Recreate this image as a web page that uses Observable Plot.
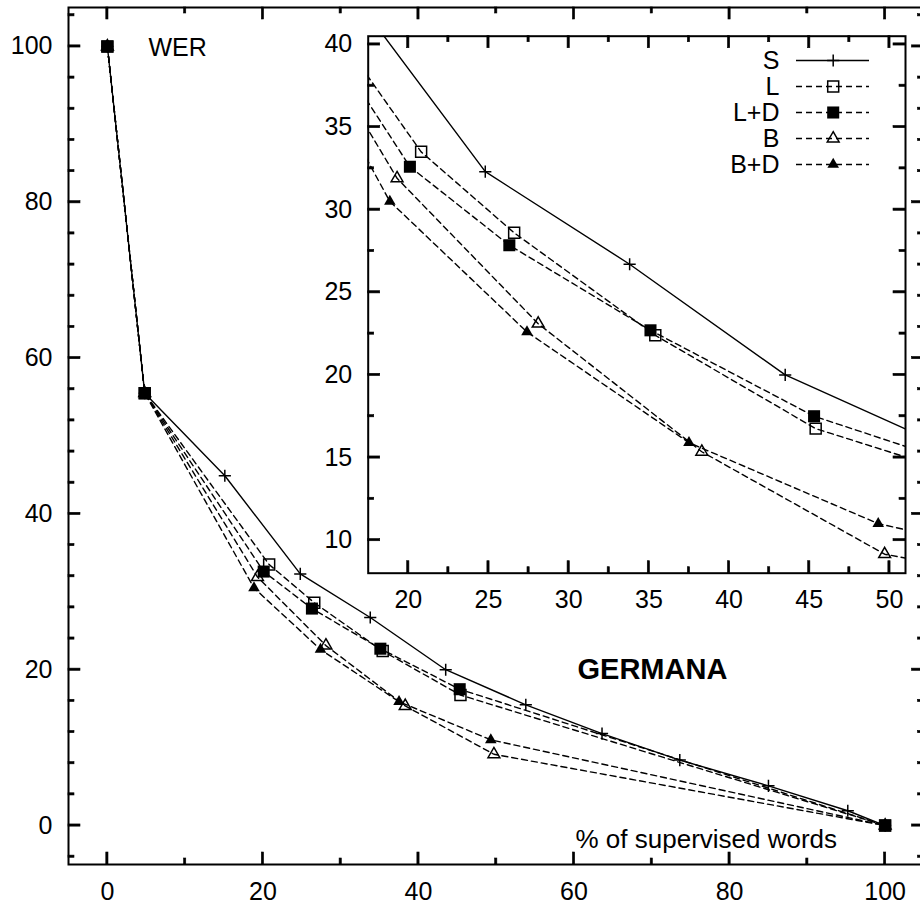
<!DOCTYPE html>
<html><head><meta charset="utf-8">
<script src="https://cdn.jsdelivr.net/npm/d3@7"></script>
<script src="https://cdn.jsdelivr.net/npm/@observablehq/plot@0.6"></script>
<style>
html,body{margin:0;padding:0;background:#fff;overflow:hidden;}
#wrap{position:relative;width:920px;height:907px;overflow:hidden;}
#wrap > svg{position:absolute;max-width:none;}
</style></head><body><div id="wrap"></div>
<script>
// ---- data ----
const seriesNames = ["S", "L", "L+D", "B", "B+D"];
const sX  = [0, 4.8, 15.1, 24.8, 33.8, 43.5, 53.8, 63.6, 73.6, 85.0, 95.2, 100];
const sY  = [100, 55.5, 44.9, 32.3, 26.7, 20.0, 15.5, 11.8, 8.4, 5.1, 1.9, 0];
const lX  = [0, 4.8, 20.8, 26.6, 35.4, 45.4, 100];
const lY  = [100, 55.5, 33.5, 28.6, 22.4, 16.75, 0];
const ldX = [0, 4.8, 20.1, 26.3, 35.1, 45.3, 100];
const ldY = [100, 55.5, 32.6, 27.85, 22.7, 17.5, 0];
const bX  = [0, 4.8, 19.3, 28.1, 38.3, 49.7, 100];
const bY  = [100, 55.5, 31.9, 23.1, 15.35, 9.15, 0];
const bdX = [0, 4.8, 18.85, 27.4, 37.5, 49.3, 100];
const bdY = [100, 55.5, 30.5, 22.6, 15.9, 11.0, 0];

const mainXTicks = [0, 20, 40, 60, 80, 100];
const mainXMinor = [10, 30, 50, 70, 90];
const mainYTicks = [0, 20, 40, 60, 80, 100];
const mainYMinor = [-4, 4, 8, 12, 16, 24, 28, 32, 36, 44, 48, 52, 56, 64, 68, 72, 76, 84, 88, 92, 96, 104];
const insetXTicks = [20, 25, 30, 35, 40, 45, 50];
const insetXMinor = [22.5, 27.5, 32.5, 37.5, 42.5, 47.5];
const insetYTicks = [10, 15, 20, 25, 30, 35, 40];
const insetYMinor = [12.5, 17.5, 22.5, 27.5, 32.5, 37.5];

const labelWER = "WER";
const labelTitle = "GERMANA";
const labelX = "% of supervised words";

// ---- build ----
const FONT = "'Liberation Sans', Arial, Helvetica, sans-serif";
const xs = [sX, lX, ldX, bX, bdX];
const ys = [sY, lY, ldY, bY, bdY];
const series = seriesNames.map((name, k) => ({
  name,
  rows: xs[k].map((x, i) => ({x, y: ys[k][i]}))
}));
const DASH = "6,4";
const LW = 1.4;
const styles = {
  "S":   {dash: null, symbol: "plus",     r: 4,   fill: "none",  stroke: "black"},
  "L":   {dash: DASH, symbol: "square",   r: 6.2, fill: "none",  stroke: "black"},
  "L+D": {dash: DASH, symbol: "square",   r: 6.8, fill: "black", stroke: "none"},
  "B":   {dash: DASH, symbol: "triangle", r: 4.4, fill: "none",  stroke: "black"},
  "B+D": {dash: DASH, symbol: "triangle", r: 4.3, fill: "black", stroke: "none"}
};

// inward ticks on all four sides (gnuplot style), drawn as thin filled rectangles
function frameTicks(xMaj, xMin, yMaj, yMin, sx, sy) {
  const [xa, xb] = sx.domain(), [ya, yb] = sy.domain();
  const [px0, px1] = sx.range(), [py0, py1] = sy.range();
  const up = len => sy.invert(py0 - len), down = len => sy.invert(py1 + len);
  const right = len => sx.invert(px0 + len), left = len => sx.invert(px1 - len);
  const hwx = Math.abs(sx.invert(px0 + 1.1) - xa);   // half tick thickness in x units
  const hwy = Math.abs(sy.invert(py0 - 1.1) - ya);   // half tick thickness in y units
  const o = {fill: "black", stroke: "black", strokeWidth: 0.6};
  const vx = (data, yA, yB) => Plot.rect(data, {...o, x1: d => d - hwx, x2: d => d + hwx, y1: yA, y2: yB});
  const hy = (data, xA, xB) => Plot.rect(data, {...o, y1: d => d - hwy, y2: d => d + hwy, x1: xA, x2: xB});
  return [
    vx(xMaj, ya, up(12)), vx(xMaj, yb, down(12)),
    vx(xMin, ya, up(6)),  vx(xMin, yb, down(6)),
    hy(yMaj, xa, right(12)), hy(yMaj, xb, left(12)),
    hy(yMin, xa, right(6)),  hy(yMin, xb, left(6))
  ];
}

function seriesMarks() {
  const marks = [];
  for (const s of series) {
    const st = styles[s.name];
    marks.push(Plot.line(s.rows, {x: "x", y: "y", stroke: "black", strokeWidth: LW,
      strokeDasharray: st.dash || undefined, clip: true}));
    marks.push(Plot.dot(s.rows, {x: "x", y: "y", symbol: st.symbol, r: st.r,
      fill: st.fill, stroke: st.stroke, strokeWidth: 1.5, clip: true}));
  }
  return marks;
}

// main plot
const mL = 68, mT = 7, mR = -3.5, mB = 43, MW = 920, MH = 907;
const mainXDomain = [-5, 105], mainYDomain = [-5, 105];
const mx = d3.scaleLinear(mainXDomain, [mL, MW - mR]);
const my = d3.scaleLinear(mainYDomain, [MH - mB, mT]);
const main = Plot.plot({
  width: MW, height: MH,
  marginLeft: mL, marginTop: mT, marginRight: mR, marginBottom: mB,
  x: {domain: mainXDomain, label: null},
  y: {domain: mainYDomain, label: null},
  style: {fontFamily: FONT, fontSize: "25px", background: "white", color: "black", left: "0px", top: "0px"},
  marks: [
    Plot.axisX(mainXTicks, {anchor: "bottom", tickSize: 0, tickPadding: 18, fontSize: 25, label: null}),
    Plot.axisY(mainYTicks, {anchor: "left", tickSize: 0, tickPadding: 16, fontSize: 25, label: null}),
    ...seriesMarks(),
    Plot.text([labelWER], {text: d => d, frameAnchor: "top-left", dx: 80, dy: 40, textAnchor: "start", lineAnchor: "middle", fontSize: 25}),
    Plot.text([labelTitle], {text: d => d, frameAnchor: "top-left", dx: 509, dy: 662, textAnchor: "start", lineAnchor: "middle", fontSize: 29, fontWeight: "bold"}),
    Plot.text([labelX], {text: d => d, frameAnchor: "bottom-left", dx: 507, dy: -25, textAnchor: "start", lineAnchor: "middle", fontSize: 26}),
    Plot.frame({stroke: "black", strokeWidth: 2}),
    ...frameTicks(mainXTicks, mainXMinor, mainYTicks, mainYMinor, mx, my)
  ]
});

// inset plot
const iW = 620, iH = 620, iL = 67.7, iT = 35.7, iR = 15, iB = 47.3;
const insetXDomain = [17.5, 51];
const insetYDomain = [8, 40.5];
const ix = d3.scaleLinear(insetXDomain, [iL, iW - iR]);
const iy = d3.scaleLinear(insetYDomain, [iH - iB, iT]);
// legend layout (pixel positions inside the inset svg)
const legendRows = seriesNames.map((name, i) => ({name, ty: iy.invert(60 + 26 * i)}));
const lgText = ix.invert(479), lgA = ix.invert(496), lgB = ix.invert(569), lgM = ix.invert(532.7);

const legendMarks = [];
legendRows.forEach(row => {
  const st = styles[row.name];
  legendMarks.push(Plot.text([row], {x: lgText, y: "ty", text: "name", textAnchor: "end", lineAnchor: "middle", fontSize: 25}));
  legendMarks.push(Plot.ruleY([row], {y: "ty", x1: lgA, x2: lgB, stroke: "black", strokeWidth: LW, strokeDasharray: st.dash || undefined}));
  legendMarks.push(Plot.dot([row], {x: lgM, y: "ty", symbol: st.symbol, r: st.r, fill: st.fill, stroke: st.stroke, strokeWidth: 1.5}));
});

const inset = Plot.plot({
  width: iW, height: iH,
  marginLeft: iL, marginTop: iT, marginRight: iR, marginBottom: iB,
  x: {domain: insetXDomain, label: null},
  y: {domain: insetYDomain, label: null},
  style: {fontFamily: FONT, fontSize: "25px", background: "transparent", color: "black", left: "300px", top: "0px"},
  marks: [
    Plot.frame({fill: "white", stroke: "none"}),
    Plot.axisX(insetXTicks, {anchor: "bottom", tickSize: 0, tickPadding: 17.3, fontSize: 25, label: null}),
    Plot.axisY(insetYTicks, {anchor: "left", tickSize: 0, tickPadding: 16, fontSize: 25, label: null}),
    ...seriesMarks(),
    ...legendMarks,
    Plot.frame({stroke: "black", strokeWidth: 2}),
    ...frameTicks(insetXTicks, insetXMinor, insetYTicks, insetYMinor, ix, iy)
  ]
});

const wrap = document.getElementById("wrap");
wrap.appendChild(main);
wrap.appendChild(inset);
</script>
</body></html>
